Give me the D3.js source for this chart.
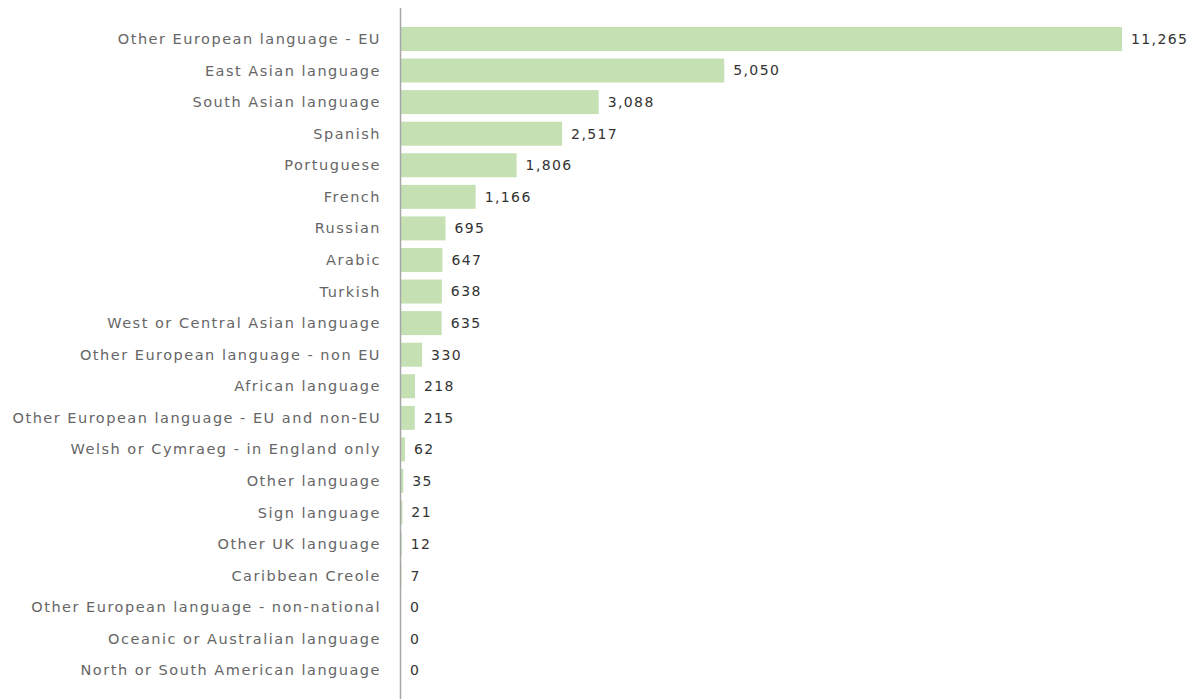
<!DOCTYPE html>
<html><head><meta charset="utf-8">
<script src="https://cdn.jsdelivr.net/npm/d3@7"></script>
<style>body{margin:0;background:#fff}</style>
</head><body>
<svg id="c" width="1198" height="699"></svg>
<script>
const categories = ["Other European language - EU","East Asian language","South Asian language","Spanish","Portuguese","French","Russian","Arabic","Turkish","West or Central Asian language","Other European language - non EU","African language","Other European language - EU and non-EU","Welsh or Cymraeg - in England only","Other language","Sign language","Other UK language","Caribbean Creole","Other European language - non-national","Oceanic or Australian language","North or South American language"];
const values = [11265,5050,3088,2517,1806,1166,695,647,638,635,330,218,215,62,35,21,12,7,0,0,0];

const svg = d3.select("#c");
const x = d3.scaleLinear().domain([0, 11265]).range([401, 1122]);
const y = d3.scaleBand().domain(categories).range([23.2, 686.2]).paddingInner(0.24).paddingOuter(0.12);
const fmt = d3.format(",");

svg.selectAll("rect.bar").data(values).join("rect")
  .attr("x", x(0)).attr("y", (d,i)=>y(categories[i]))
  .attr("width", d=>x(d)-x(0)).attr("height", y.bandwidth())
  .attr("fill", "#c5e0b3");

svg.append("line").attr("x1",400.5).attr("x2",400.5).attr("y1",8).attr("y2",699)
  .attr("stroke","#a6a6a6").attr("stroke-width",1.5);

svg.selectAll("text.cat").data(categories).join("text")
  .attr("x", 381).attr("y", d=>y(d)+y.bandwidth()/2)
  .attr("dy","0.35em").attr("text-anchor","end")
  .attr("font-family","DejaVu Sans, Verdana, sans-serif").attr("font-size",14.5)
  .attr("letter-spacing","1.5px")
  .attr("fill","#666").text(d=>d);

svg.selectAll("text.val").data(values).join("text")
  .attr("x", d=>x(d)+9).attr("y", (d,i)=>y(categories[i])+y.bandwidth()/2)
  .attr("dy","0.35em")
  .attr("font-family","DejaVu Sans, Verdana, sans-serif").attr("font-size",14)
  .attr("letter-spacing","1.4px")
  .attr("fill","#333").text(d=>fmt(d));
</script>
</body></html>
